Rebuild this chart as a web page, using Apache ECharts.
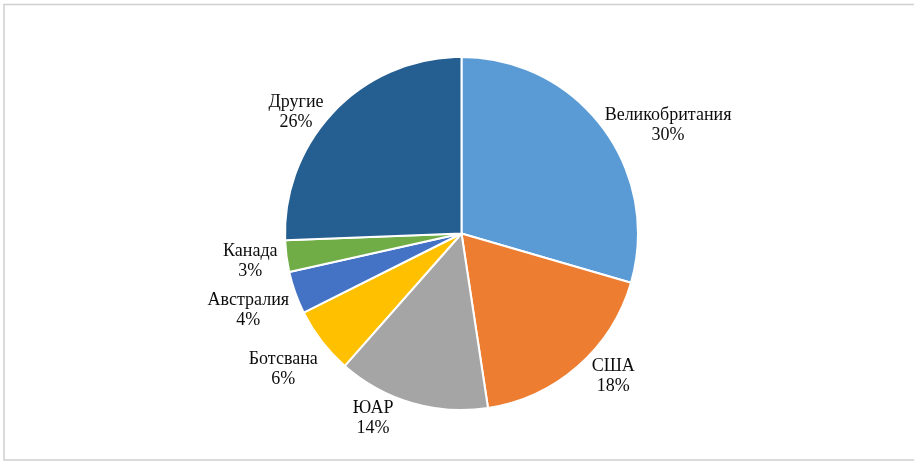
<!DOCTYPE html>
<html>
<head>
<meta charset="utf-8">
<script src="https://cdn.jsdelivr.net/npm/echarts@6/dist/echarts.min.js"></script>
<style>
html,body{margin:0;padding:0;background:#fff;}
#chart{width:914px;height:462px;}
</style>
</head>
<body>
<div id="chart"></div>
<script>
var categories = ['Великобритания', 'США', 'ЮАР', 'Ботсвана', 'Австралия', 'Канада', 'Другие'];
var values = [29.5, 18.1, 13.9, 6.1, 3.9, 2.9, 25.6];
var colors = ['#5B9BD5', '#ED7D31', '#A5A5A5', '#FFC000', '#4472C4', '#70AD47', '#255E91'];

// layout settings (not data)
var CX = 461.5, CY = 233.5, R = 176.5, LABEL_GAP = 15;
var labelNudge = [[-10, 7], [4, -1], [-14, 1], [8, 19], [8, 12], [6, 3], [0, 12]];

var total = values.reduce(function (a, b) { return a + b; }, 0);
var acc = 0;
var midAngles = values.map(function (v) {
  var m = (acc + v / 2) / total * Math.PI * 2;
  acc += v;
  return m;
});

var chart = echarts.init(document.getElementById('chart'));
var data = categories.map(function (c, i) {
  return { name: c, value: values[i], itemStyle: { color: colors[i] } };
});
chart.setOption({
  animation: false,
  backgroundColor: '#fff',
  graphic: [{
    type: 'rect',
    shape: { x: 4, y: 4.5, width: 1000, height: 455.5 },
    style: { fill: 'none', stroke: '#d0d0d0', lineWidth: 1.5 },
    silent: true
  }],
  series: [{
    type: 'pie',
    center: [CX, CY],
    radius: R,
    startAngle: 90,
    clockwise: true,
    avoidLabelOverlap: false,
    itemStyle: { borderColor: '#fff', borderWidth: 2 },
    label: {
      show: true,
      position: 'outside',
      fontFamily: '"Liberation Serif", "Times New Roman", serif',
      fontSize: 18,
      lineHeight: 20,
      color: '#0d0d0d',
      formatter: function (p) { return p.name + '\n' + Math.round(p.percent) + '%'; }
    },
    labelLine: { show: false, length: LABEL_GAP, length2: 0 },
    labelLayout: function (p) {
      var i = p.dataIndex;
      var a = midAngles[i];
      var dx = Math.sin(a), dy = -Math.cos(a);
      var r = R + LABEL_GAP;
      var w = p.labelRect.width;
      return {
        x: CX + dx * r + (dx >= 0 ? 1 : -1) * w / 2 + labelNudge[i][0],
        y: CY + dy * r + labelNudge[i][1],
        align: 'center',
        verticalAlign: 'middle'
      };
    },
    emphasis: { disabled: true },
    data: data
  }]
});
</script>
</body>
</html>
